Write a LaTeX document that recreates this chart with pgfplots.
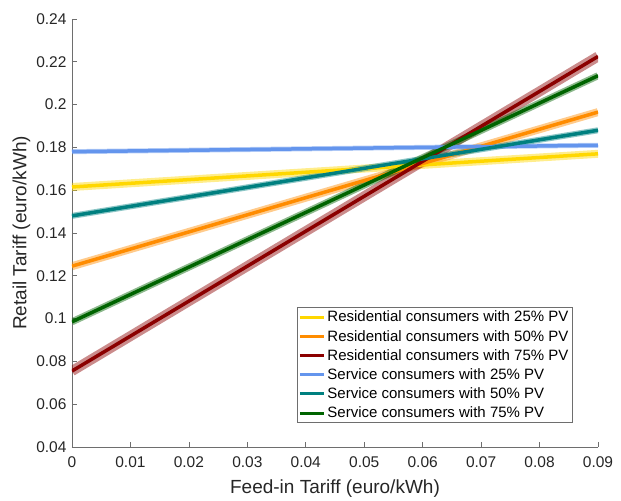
\documentclass[border=0pt]{standalone}
\usepackage{fontspec}
\setmainfont{Liberation Sans}
\usepackage{pgfplots}
\pgfplotsset{compat=1.18}
\definecolor{cY}{RGB}{255,215,0}
\definecolor{cO}{RGB}{255,140,0}
\definecolor{cR}{RGB}{139,0,0}
\definecolor{cB}{RGB}{100,149,237}
\definecolor{cT}{RGB}{0,128,128}
\definecolor{cG}{RGB}{0,100,0}
\definecolor{axc}{RGB}{110,110,110}
\definecolor{txc}{RGB}{38,38,38}
\begin{document}
\begin{tikzpicture}
\begin{axis}[
  scale only axis, width=526pt, height=428pt,
  xmin=0, xmax=0.09, ymin=0.04, ymax=0.24,
  axis lines=left, axis line style={axc, line width=0.6pt, -},
  xtick={0,0.01,...,0.09}, ytick={0.04,0.06,...,0.24},
  tick style={axc, line width=0.6pt}, tick align=inside,
  major tick length=5pt,
  /pgf/number format/assume math mode=true,
  /pgf/number format/fixed, /pgf/number format/precision=2,
  scaled ticks=false,
  tick label style={font=\fontsize{15.5}{18}\selectfont, text=txc},
  xticklabel style={yshift=-6pt},
  yticklabel style={xshift=-2pt},
  xlabel={Feed-in Tariff (euro/kWh)}, ylabel={Retail Tariff (euro/kWh)},
  label style={font=\fontsize{19}{22}\selectfont, text=txc},
  xlabel style={yshift=-5pt},
  ylabel style={yshift=-1pt},
  legend style={at={(0.951,0.056)}, anchor=south east, draw=axc, line width=0.6pt,
    font=\fontsize{15}{17}\selectfont, text=black, row sep=2.8pt, inner sep=1.5pt},
  legend cell align=left,
  legend image code/.code={\draw[#1, line width=3pt] (0pt,0pt) -- (24pt,0pt);},
]
\addplot[cY, line width=8pt, opacity=0.45, forget plot] coordinates {(0,0.1615) (0.09,0.177)};
\addplot[cO, line width=8pt, opacity=0.45, forget plot] coordinates {(0,0.1245) (0.09,0.1965)};
\addplot[cR, line width=10pt, opacity=0.45, forget plot] coordinates {(0,0.0755) (0.09,0.2225)};
\addplot[cB, line width=5pt, opacity=0.45, forget plot] coordinates {(0,0.178) (0.09,0.181)};
\addplot[cT, line width=6pt, opacity=0.45, forget plot] coordinates {(0,0.148) (0.09,0.188)};
\addplot[cG, line width=7pt, opacity=0.45, forget plot] coordinates {(0,0.0985) (0.09,0.2135)};
\addplot[cY, line width=3.5pt] coordinates {(0,0.1615) (0.09,0.177)};
\addlegendentry{Residential consumers with 25\% PV}
\addplot[cO, line width=3.5pt] coordinates {(0,0.1245) (0.09,0.1965)};
\addlegendentry{Residential consumers with 50\% PV}
\addplot[cR, line width=3.5pt] coordinates {(0,0.0755) (0.09,0.2225)};
\addlegendentry{Residential consumers with 75\% PV}
\addplot[cB, line width=3.5pt] coordinates {(0,0.178) (0.09,0.181)};
\addlegendentry{Service consumers with 25\% PV}
\addplot[cT, line width=3.5pt] coordinates {(0,0.148) (0.09,0.188)};
\addlegendentry{Service consumers with 50\% PV}
\addplot[cG, line width=3.5pt] coordinates {(0,0.0985) (0.09,0.2135)};
\addlegendentry{Service consumers with 75\% PV}
\end{axis}
\path (-72pt,-51pt) (549pt,447pt);
\end{tikzpicture}
\end{document}
